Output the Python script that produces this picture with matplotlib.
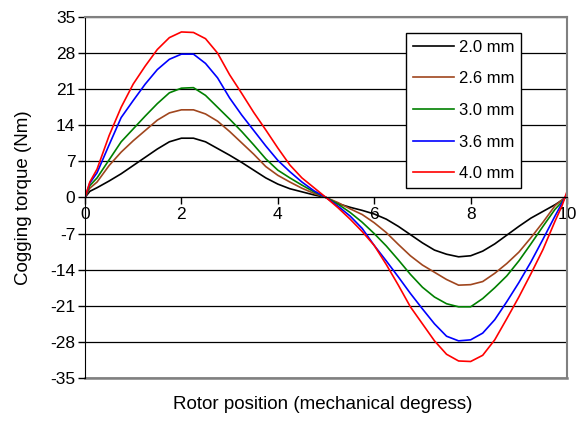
import matplotlib
matplotlib.use("Agg")
from matplotlib import pyplot as plt

plt.rcParams['font.family'] = ['Liberation Sans', 'DejaVu Sans']
plt.rcParams['axes.unicode_minus'] = False

# rotor position (mechanical degrees)
x = [0, 0.1, 0.25, 0.5, 0.75, 1.0, 1.25, 1.5, 1.75, 2.0, 2.25, 2.5, 2.75, 3.0, 3.25,
     3.5, 3.75, 4.0, 4.25, 4.5, 4.75, 5.0,
     5.25, 5.5, 5.75, 6.0, 6.25, 6.5, 6.75, 7.0, 7.25, 7.5, 7.75, 8.0, 8.25, 8.5,
     8.75, 9.0, 9.25, 9.5, 9.75, 9.9, 10.0]

# cogging torque (Nm) for each magnet thickness
t_20 = [0, 1.2, 1.9, 3.2, 4.6, 6.2, 7.8, 9.4, 10.8, 11.5, 11.5, 10.8, 9.5, 8.2, 6.8,
        5.3, 3.8, 2.6, 1.7, 1.1, 0.5, 0,
        -1.2, -1.9, -2.5, -3.2, -4.2, -5.6, -7.2, -8.8, -10.2, -11.0, -11.5, -11.3, -10.4, -9.0,
        -7.3, -5.6, -4.0, -2.7, -1.4, -0.5, 0.2]
t_26 = [0, 1.8, 3.0, 6.2, 8.8, 11.0, 13.0, 15.0, 16.4, 17.0, 17.0, 16.2, 14.8, 12.8, 10.6,
        8.4, 6.0, 4.3, 3.0, 1.8, 0.8, 0,
        -1.0, -2.2, -3.3, -4.9, -6.8, -9.1, -11.3, -13.1, -14.5, -15.9, -17.0, -16.9, -16.3, -14.7,
        -12.8, -10.6, -7.8, -4.8, -1.6, -0.4, 0.3]
t_30 = [0, 2.3, 3.8, 7.3, 10.8, 13.3, 15.8, 18.2, 20.3, 21.2, 21.3, 19.8, 17.5, 15.2, 12.8,
        10.2, 7.5, 5.3, 3.8, 2.4, 1.1, 0,
        -1.3, -2.9, -4.8, -7.0, -9.4, -12.1, -14.9, -17.4, -19.3, -20.6, -21.2, -21.2, -19.6, -17.5,
        -15.2, -12.3, -9.0, -5.6, -2.3, -0.8, 0.5]
t_36 = [0, 2.8, 4.8, 10.2, 15.5, 18.8, 22.0, 24.8, 26.8, 27.8, 27.8, 26.0, 23.2, 19.3, 16.0,
        13.0, 10.0, 7.2, 5.0, 3.0, 1.3, 0,
        -1.7, -3.6, -6.0, -9.3, -12.3, -15.4, -18.6, -21.6, -24.5, -26.9, -27.8, -27.6, -26.3, -23.7,
        -20.2, -16.5, -12.5, -8.1, -3.6, -1.0, 0.8]
t_40 = [0, 3.0, 5.5, 12.0, 17.5, 22.0, 25.5, 28.7, 31.0, 32.1, 32.0, 30.8, 28.0, 23.8, 20.2,
        16.5, 13.1, 9.6, 6.3, 3.8, 1.9, 0,
        -2.0, -4.2, -6.6, -9.3, -13.0, -17.0, -21.2, -24.5, -27.8, -30.4, -31.7, -31.8, -30.6, -27.6,
        -23.5, -19.3, -14.8, -10.1, -4.6, -1.5, 1.2]

labels = ["2.0 mm", "2.6 mm", "3.0 mm", "3.6 mm", "4.0 mm"]
colors = ["#000000", "#a0461e", "#008000", "#0000ff", "#ff0000"]
yticks = [35, 28, 21, 14, 7, 0, -7, -14, -21, -28, -35]
xticks = [0, 2, 4, 6, 8, 10]

fig = plt.figure(figsize=(5.81, 4.23), dpi=100)
ax = fig.add_axes([0.1463, 0.1064, 0.8297, 0.8534])

for series, lab, col in zip([t_20, t_26, t_30, t_36, t_40], labels, colors):
  ax.plot(x, series, color=col, lw=1.2, label=lab)

ax.set_xlim(0, 10)
ax.set_ylim(-35, 35)
ax.set_yticks(yticks)
ax.set_xticks(xticks)
ax.yaxis.grid(True, color="black", lw=0.9)
ax.set_axisbelow(True)

# x axis crosses at zero, plot area frame in grey
ax.spines['bottom'].set_position(('data', 0))
ax.spines['bottom'].set_color("black")
ax.spines['left'].set_color("black")
for s in ['top', 'right']:
  ax.spines[s].set_color("#808080")
  ax.spines[s].set_linewidth(1.5)
ax.axhline(-35, color="#808080", lw=1.8, clip_on=False, zorder=0.5)

ax.tick_params(axis='both', direction='out', length=5, width=1, labelsize=12.5, colors="black")
ax.tick_params(axis='x', pad=2)
ax.tick_params(axis='y', pad=2)

leg = ax.legend(loc='upper left', bbox_to_anchor=(0.666, 0.956), fontsize=12,
                frameon=True, fancybox=False, edgecolor="black", framealpha=1,
                labelspacing=1.0, handlelength=2.45, handletextpad=0.3, borderpad=0.4,
                borderaxespad=0)
leg.get_frame().set_linewidth(1.0)

fig.text(0.04, 0.532, "Cogging torque (Nm)", rotation=90, ha='center', va='center', fontsize=13.5)
fig.text(0.556, 0.043, "Rotor position (mechanical degress)", ha='center', va='center', fontsize=13.5)

plt.savefig("out.png", dpi=100)
plt.close()
